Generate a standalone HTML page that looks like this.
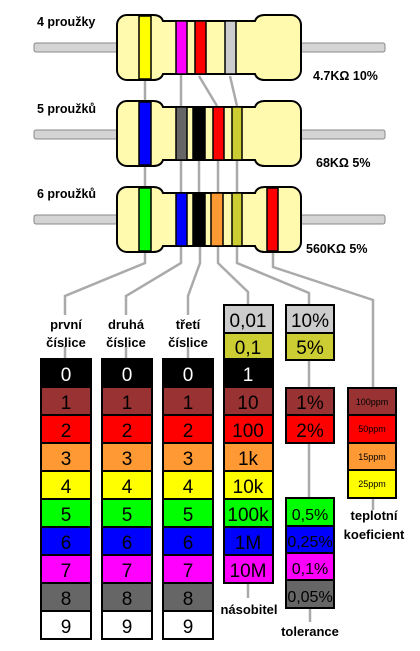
<!DOCTYPE html>
<html><head><meta charset="utf-8"><style>
html,body{margin:0;padding:0;background:#fff;width:420px;height:651px;overflow:hidden}
svg{display:block}
text{font-family:"Liberation Sans","DejaVu Sans",sans-serif}
</style></head><body>
<svg width="420" height="651" viewBox="0 0 420 651">
<defs>
<path id="body" d="M127,0 h26 q8,0 10,6 h92 q2,-6 10,-6 h26 a10,10 0 0 1 10,10 v45 a10,10 0 0 1 -10,10 h-26 q-8,0 -10,-6 h-92 q-2,6 -10,6 h-26 a10,10 0 0 1 -10,-10 v-45 a10,10 0 0 1 10,-10 z"/>
</defs>
<g stroke="#aaa" stroke-width="2.5" fill="none">
<line x1="145" y1="80" x2="145" y2="102"/>
<line x1="181" y1="74" x2="181" y2="108"/>
<line x1="199" y1="76" x2="217" y2="106"/>
<line x1="230" y1="76" x2="237" y2="106"/>
<line x1="145" y1="165" x2="145" y2="187"/>
<line x1="181" y1="160" x2="181" y2="193"/>
<line x1="199" y1="160" x2="199" y2="193"/>
<line x1="218" y1="160" x2="218" y2="193"/>
<line x1="237" y1="160" x2="237" y2="193"/>
<polyline points="145,251 145,263 65,296 65,315"/>
<polyline points="181,246 181,263 126,296 126,315"/>
<polyline points="200,246 200,263 188,296 188,315"/>
<polyline points="218,246 218,263 248,292 248,305"/>
<polyline points="237,246 237,263 309,293 309,305"/>
<polyline points="273,251 273,267 373,300 373,389"/>
<line x1="65" y1="346" x2="65" y2="359"/>
<line x1="126" y1="346" x2="126" y2="359"/>
<line x1="188" y1="346" x2="188" y2="359"/>
<line x1="309" y1="360" x2="309" y2="388"/>
<line x1="309" y1="443" x2="309" y2="498"/>
<line x1="373" y1="498" x2="373" y2="510"/>
<line x1="248" y1="582" x2="248" y2="598"/>
<line x1="310" y1="608" x2="310" y2="622"/>
</g>
<g fill="#d4d4d4" stroke="#888" stroke-width="1">
<rect x="34" y="43" width="84" height="9" rx="2"/><rect x="300" y="43" width="85" height="9" rx="2"/>
<rect x="34" y="130" width="84" height="9" rx="2"/><rect x="300" y="130" width="85" height="9" rx="2"/>
<rect x="34" y="215" width="84" height="9" rx="2"/><rect x="300" y="215" width="85" height="9" rx="2"/>
</g>
<g transform="translate(0,15)">
<use href="#body" fill="#fffaae" stroke="#000" stroke-width="2"/>
<g stroke="#000" stroke-width="1.5">
<rect x="139" y="1" width="12" height="63" fill="#ffff00"/>
<rect x="176" y="6" width="11" height="53" fill="#ff00ff"/>
<rect x="195" y="6" width="11" height="53" fill="#ff0000"/>
<rect x="225" y="6" width="11" height="53" fill="#cccccc"/>
</g></g>
<g transform="translate(0,101)">
<use href="#body" fill="#fffaae" stroke="#000" stroke-width="2"/>
<g stroke="#000" stroke-width="1.5">
<rect x="139" y="1" width="12" height="63" fill="#0000ff"/>
<rect x="176" y="6" width="11" height="53" fill="#666"/>
<rect x="193" y="6" width="12" height="53" fill="#000"/>
<rect x="213" y="6" width="11" height="53" fill="#ff0000"/>
<rect x="232" y="6" width="10" height="53" fill="#cccc33"/>
</g></g>
<g transform="translate(0,187)">
<use href="#body" fill="#fffaae" stroke="#000" stroke-width="2"/>
<g stroke="#000" stroke-width="1.5">
<rect x="139" y="1" width="12" height="63" fill="#00ff00"/>
<rect x="176" y="6" width="11" height="53" fill="#0000ff"/>
<rect x="193" y="6" width="12" height="53" fill="#000"/>
<rect x="211" y="6" width="12" height="53" fill="#ff9933"/>
<rect x="232" y="6" width="10" height="53" fill="#cccc33"/>
<rect x="267" y="1" width="11" height="63" fill="#ff0000"/>
</g></g>
<g font-weight="bold" font-size="12.5" fill="#000">
<text x="37" y="26">4 proužky</text>
<text x="37" y="113">5 proužků</text>
<text x="37" y="198">6 proužků</text>
<text x="313" y="80">4.7KΩ 10%</text>
<text x="316" y="167">68KΩ 5%</text>
<text x="306" y="253">560KΩ 5%</text>
<g text-anchor="middle" font-size="13">
<text x="66" y="329">první</text><text x="66" y="347">číslice</text>
<text x="126" y="329">druhá</text><text x="126" y="347">číslice</text>
<text x="188" y="329">třetí</text><text x="188" y="347">číslice</text>
<text x="249" y="614">násobitel</text>
<text x="310" y="636">tolerance</text>
<text x="374" y="520">teplotní</text><text x="374" y="539">koeficient</text>
</g></g>
<g stroke="#000" stroke-width="2" font-size="19" text-anchor="middle">
<g id="c1">
<rect x="41" y="359" width="50" height="28" fill="#000"/>
<rect x="41" y="387" width="50" height="28" fill="#993333"/>
<rect x="41" y="415" width="50" height="28" fill="#ff0000"/>
<rect x="41" y="443" width="50" height="28" fill="#ff9933"/>
<rect x="41" y="471" width="50" height="28" fill="#ffff00"/>
<rect x="41" y="499" width="50" height="28" fill="#00ff00"/>
<rect x="41" y="527" width="50" height="28" fill="#0000ff"/>
<rect x="41" y="555" width="50" height="28" fill="#ff00ff"/>
<rect x="41" y="583" width="50" height="28" fill="#666666"/>
<rect x="41" y="611" width="50" height="28" fill="#ffffff"/>
<g stroke="none" fill="#000">
<text x="66" y="381" fill="#fff">0</text><text x="66" y="409">1</text><text x="66" y="437">2</text><text x="66" y="465">3</text><text x="66" y="493">4</text><text x="66" y="521">5</text><text x="66" y="549">6</text><text x="66" y="577">7</text><text x="66" y="605">8</text><text x="66" y="633">9</text>
</g></g>
<use href="#c1" x="61"/>
<use href="#c1" x="122"/>
<rect x="224" y="305" width="49" height="28" fill="#cccccc"/>
<rect x="224" y="333" width="49" height="26" fill="#cccc33"/>
<rect x="224" y="359" width="49" height="28" fill="#000"/>
<rect x="224" y="387" width="49" height="28" fill="#993333"/>
<rect x="224" y="415" width="49" height="28" fill="#ff0000"/>
<rect x="224" y="443" width="49" height="28" fill="#ff9933"/>
<rect x="224" y="471" width="49" height="28" fill="#ffff00"/>
<rect x="224" y="499" width="49" height="28" fill="#00ff00"/>
<rect x="224" y="527" width="49" height="28" fill="#0000ff"/>
<rect x="224" y="555" width="49" height="28" fill="#ff00ff"/>
<rect x="286" y="305" width="48" height="28" fill="#cccccc"/>
<rect x="286" y="333" width="48" height="27" fill="#cccc33"/>
<rect x="286" y="388" width="48" height="27" fill="#993333"/>
<rect x="286" y="415" width="48" height="28" fill="#ff0000"/>
<rect x="286" y="498" width="48" height="28" fill="#00ff00"/>
<rect x="286" y="526" width="48" height="27" fill="#0000ff"/>
<rect x="286" y="553" width="48" height="27" fill="#ff00ff"/>
<rect x="286" y="580" width="48" height="28" fill="#666666"/>
<rect x="348" y="388" width="48" height="27" fill="#993333"/>
<rect x="348" y="415" width="48" height="28" fill="#ff0000"/>
<rect x="348" y="443" width="48" height="27" fill="#ff9933"/>
<rect x="348" y="470" width="48" height="28" fill="#ffff00"/>
<g stroke="none" fill="#000">
<text x="248" y="327">0,01</text><text x="248" y="354">0,1</text><text x="248" y="381" fill="#fff">1</text>
<text x="248" y="409">10</text><text x="248" y="437">100</text><text x="248" y="465">1k</text><text x="248" y="493">10k</text><text x="248" y="521">100k</text><text x="248" y="549">1M</text><text x="248" y="577">10M</text>
<text x="310" y="327">10%</text><text x="310" y="354">5%</text><text x="310" y="409">1%</text><text x="310" y="437">2%</text>
<text x="310" y="520" font-size="16">0,5%</text><text x="310" y="547" font-size="16">0,25%</text><text x="310" y="574" font-size="16">0,1%</text><text x="310" y="602" font-size="16">0,05%</text>
<g font-size="9"><text x="372" y="405">100ppm</text><text x="372" y="432">50ppm</text><text x="372" y="460">15ppm</text><text x="372" y="487">25ppm</text></g>
</g>
</g>
</svg>
</body></html>
